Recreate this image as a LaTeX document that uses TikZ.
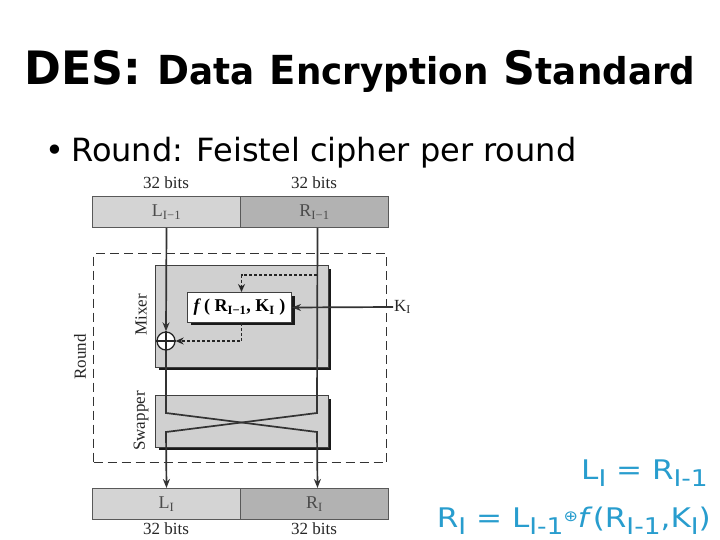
\documentclass[tikz,border=0pt]{standalone}
\usepackage{fontspec}
\setmainfont{Liberation Serif}
\newfontfamily\versans{DejaVu Sans}
\newfontfamily\titlefont[FakeStretch=0.965]{DejaVu Sans}
\newfontfamily\eqfont[FakeStretch=1.15]{DejaVu Sans}
\usetikzlibrary{arrows.meta}
\definecolor{lg}{RGB}{212,212,212}
\definecolor{dg}{RGB}{178,178,178}
\definecolor{mixg}{RGB}{208,208,208}
\definecolor{eqblue}{RGB}{40,157,206}
\definecolor{lbl}{RGB}{75,75,75}
\newcommand{\eqsb}[1]{\raisebox{-7pt}{\fontsize{23}{23}\selectfont #1}}
\begin{document}
\begin{tikzpicture}[x=1pt,y=-1pt,
  bar/.style={draw=black!65, line width=1pt, minimum height=31pt, minimum width=148pt, inner sep=0pt, anchor=north west, font=\fontsize{18}{20}\selectfont, text=lbl},
  bitlab/.style={font=\fontsize{17}{19}\selectfont, text=black!85, inner sep=0pt},
  sidelab/.style={font=\fontsize{17}{19}\selectfont, text=black!85, inner sep=0pt, rotate=90},
  blk/.style={draw=black!75, line width=1pt, inner sep=0pt, anchor=north west},
  ln/.style={line width=1.7pt, draw=black!80},
  arr/.style={ln, -{Stealth[length=9pt,width=7pt]}},
  dsh/.style={line width=1.3pt, draw=black!85, dash pattern=on 3pt off 2pt},
  darr/.style={dsh, -{Stealth[length=8pt,width=7pt]}},
  eq/.style={font=\eqfont\fontsize{27}{30}\selectfont, text=eqblue, inner sep=0pt, anchor=base east}
]
\useasboundingbox (0,0) rectangle (720,540);
\fill[white] (0,0) rectangle (720,540);

% title
\node[anchor=base, inner sep=0pt] (title) at (360,85)
  {\titlefont\bfseries\fontsize{46}{50}\selectfont DES:
   {\fontsize{40}{44}\selectfont D}{\fontsize{37}{40}\selectfont ata}
   {\fontsize{40}{44}\selectfont E}{\fontsize{37}{40}\selectfont ncryption}
   S{\fontsize{37}{40}\selectfont tandard}};
\node[anchor=base west, inner sep=0pt] (sub) at (45,162)
  {\versans\fontsize{32}{34}\selectfont {\fontsize{32}{32}\selectfont •}\hspace{-3pt} Round: Feistel cipher per round};

% top bars
\node[bar, fill=lg] (Ltop) at (92,196) {L\textsubscript{I−1}};
\node[bar, fill=dg] (Rtop) at (240,196) {R\textsubscript{I−1}};
\node[bitlab, anchor=base] (bLt) at (166,189) {32 bits};
\node[bitlab, anchor=base] (bRt) at (314,189) {32 bits};

% round box
\node[draw=black!80, line width=1.1pt, dash pattern=on 9pt off 5pt, minimum width=293pt, minimum height=209pt, anchor=north west, inner sep=0pt] (round) at (93,253) {};
\node[sidelab] (roundlab) at (80,357) {Round};

% mixer
\fill[black!90] (159,269) rectangle (331,370);
\node[blk, fill=mixg, minimum width=173pt, minimum height=102pt] (mixer) at (155,265) {};
\node[sidelab] (mixlab) at (141,315) {Mixer};

% f box
\fill[black!90] (191,296) rectangle (295,325);
\node[blk, fill=white, minimum width=104pt, minimum height=30pt, font=\fontsize{18}{20}\selectfont\bfseries] (fbox) at (187,292)
  {\textit{f}\,( R\textsubscript{I−1}, K\textsubscript{I} )};

% xor
\node[circle, draw=black!85, line width=1.3pt, fill=white, minimum size=18pt, inner sep=0pt] (xor) at (166,341) {};
\draw[line width=1.3pt, draw=black!85] (xor.north) -- (xor.south) (xor.west) -- (xor.east);

% swapper
\fill[black!90] (159,399) rectangle (331,450);
\node[blk, fill=mixg, minimum width=173pt, minimum height=52pt] (swap) at (155,395) {};
\node[sidelab] (swaplab) at (141,421) {Swapper};

% bottom bars
\node[bar, fill=lg] (Lbot) at (92,488) {L\textsubscript{I}};
\node[bar, fill=dg] (Rbot) at (240,488) {R\textsubscript{I}};
\node[bitlab, anchor=base] (bLb) at (166,534) {32 bits};
\node[bitlab, anchor=base] (bRb) at (314,534) {32 bits};

% connectors
\coordinate (s1) at (166,413);
\coordinate (s2) at (317,413);
\coordinate (s3) at (166,432);
\coordinate (s4) at (317,432);
\draw[arr] (Ltop.south) -- (xor.north);
\draw[arr] (xor.south) -- (s1) -- (s4) -- ([xshift=3pt]Rbot.north);
\draw[arr] ([xshift=3pt]Rtop.south) -- (s2) -- (s3) -- (Lbot.north);

\coordinate (d1) at (317,275);
\draw[darr] (d1) -- ([xshift=2pt]fbox.north |- d1) -- ([xshift=2pt]fbox.north);
\draw[darr] ([xshift=2pt]fbox.south) -- ([xshift=2pt]fbox.south |- xor) -- (xor.east);

\coordinate (k) at (393,307);
\draw[arr] (k) -- (fbox.east);
\node[anchor=west, inner sep=1pt, font=\fontsize{17}{19}\selectfont, text=black!85] (klab) at (k) {K\textsubscript{I}};

% equations
\node[eq] (eq1) at (708,479) {L\eqsb{I} = R\eqsb{I-1}};
\node[eq] (eq2) at (711,527) {R\eqsb{I} = L\eqsb{I-1}\raisebox{6pt}{\fontsize{15}{15}\selectfont ⊕}\textit{f}(R\eqsb{I-1},K\eqsb{I})};
\end{tikzpicture}
\end{document}
